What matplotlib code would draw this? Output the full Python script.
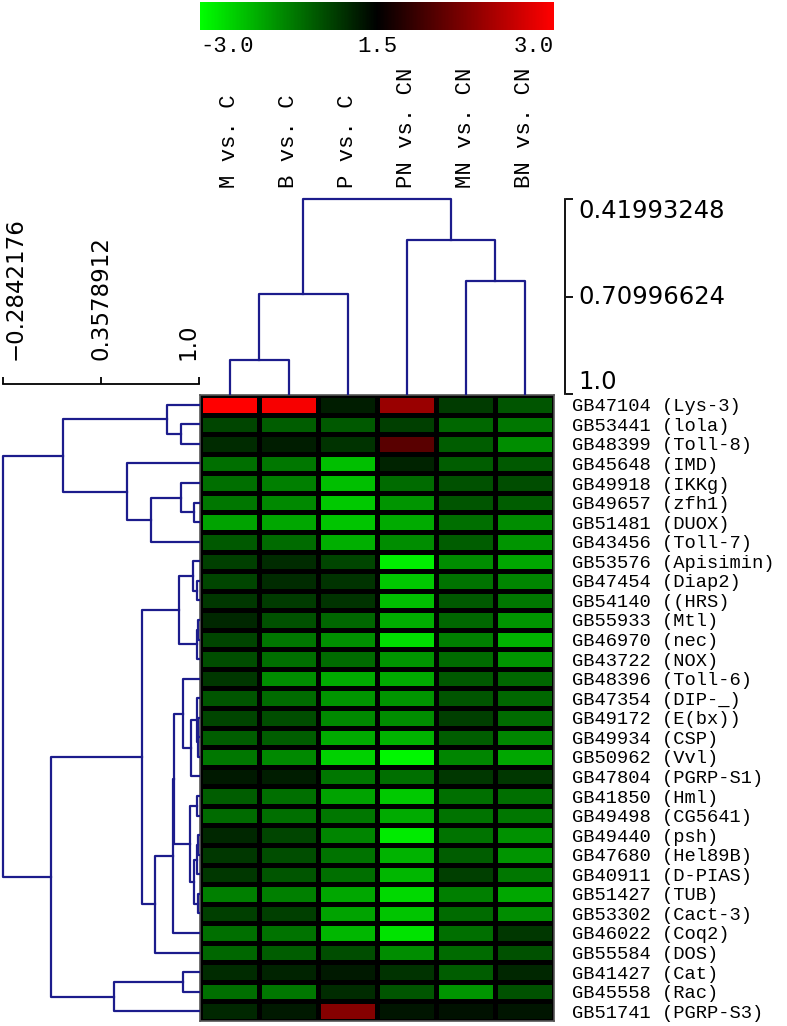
import numpy as np
import matplotlib
matplotlib.use('Agg')
import matplotlib.pyplot as plt
from matplotlib.colors import LinearSegmentedColormap, Normalize
from matplotlib.cm import ScalarMappable

W, H = 787, 1026

# ---- data ----
col_labels = ['M vs. C', 'B vs. C', 'P vs. C', 'PN vs. CN', 'MN vs. CN', 'BN vs. CN']
row_labels = ['GB47104 (Lys-3)', 'GB53441 (lola)', 'GB48399 (Toll-8)', 'GB45648 (IMD)',
              'GB49918 (IKKg)', 'GB49657 (zfh1)', 'GB51481 (DUOX)', 'GB43456 (Toll-7)',
              'GB53576 (Apisimin)', 'GB47454 (Diap2)', 'GB54140 ((HRS)', 'GB55933 (Mtl)',
              'GB46970 (nec)', 'GB43722 (NOX)', 'GB48396 (Toll-6)', 'GB47354 (DIP-_)',
              'GB49172 (E(bx))', 'GB49934 (CSP)', 'GB50962 (Vvl)', 'GB47804 (PGRP-S1)',
              'GB41850 (Hml)', 'GB49498 (CG5641)', 'GB49440 (psh)', 'GB47680 (Hel89B)',
              'GB40911 (D-PIAS)', 'GB51427 (TUB)', 'GB53302 (Cact-3)', 'GB46022 (Coq2)',
              'GB55584 (DOS)', 'GB41427 (Cat)', 'GB45558 (Rac)', 'GB51741 (PGRP-S3)']

m_vs_c = [3.0, -0.8, -0.5, -1.3, -1.3, -1.4, -1.9, -1.05, -0.75, -0.8, -0.65, -0.45, -0.8, -0.9,
          -0.65, -1.0, -0.8, -1.1, -1.4, -0.3, -1.1, -1.25, -0.45, -0.65, -0.65, -1.5, -0.75,
          -1.3, -1.2, -0.5, -1.3, -0.45]
b_vs_c = [2.9, -1.1, -0.35, -1.4, -1.5, -1.6, -1.95, -1.25, -0.5, -0.5, -0.7, -0.95, -1.4, -1.3,
          -1.65, -1.25, -0.9, -1.1, -1.6, -0.35, -1.3, -1.3, -0.8, -0.9, -1.0, -1.5, -0.75,
          -1.35, -1.1, -0.4, -1.4, -0.3]
p_vs_c = [-0.35, -1.05, -0.6, -2.25, -2.25, -2.35, -2.3, -2.05, -0.8, -0.6, -0.6, -1.2, -1.7, -1.25,
          -2.0, -1.75, -1.6, -2.0, -2.45, -1.4, -1.9, -1.4, -1.55, -1.35, -1.3, -1.95, -1.9,
          -2.15, -0.9, -0.3, -0.5, 1.55]
pn_vs_cn = [1.8, -0.75, 1.05, -0.4, -1.25, -1.75, -2.0, -1.65, -2.8, -2.35, -2.25, -2.05, -2.6, -1.75,
            -2.0, -1.75, -1.65, -2.1, -2.9, -1.3, -2.35, -2.0, -2.75, -2.1, -2.15, -2.55, -2.3,
            -2.65, -1.65, -0.6, -1.0, -0.25]
mn_vs_cn = [-0.7, -1.2, -1.1, -1.1, -0.95, -1.0, -1.3, -1.1, -1.65, -1.35, -1.05, -1.2, -1.5, -1.25,
            -1.05, -1.0, -0.75, -1.1, -1.55, -0.65, -1.3, -1.35, -1.35, -1.1, -0.75, -1.5, -1.25,
            -1.3, -1.25, -1.1, -1.75, -0.2]
bn_vs_cn = [-1.0, -1.4, -1.65, -1.05, -0.9, -1.1, -1.65, -1.75, -1.95, -1.55, -1.4, -1.75, -2.1, -1.75,
            -1.2, -1.2, -1.25, -1.55, -1.95, -0.65, -1.3, -1.4, -1.7, -1.75, -1.4, -1.95, -1.65,
            -0.65, -0.95, -0.45, -0.95, -0.25]

# linkage: (child a, child b, similarity at merge); leaves 0..n-1, merges n, n+1, ...
col_merges = [(0, 1, 0.899), (6, 2, 0.7026), (4, 5, 0.664), (3, 8, 0.542), (7, 9, 0.41993248)]
row_merges = [(1, 2, 0.882), (0, 32, 0.790), (5, 6, 0.967), (4, 34, 0.882), (35, 7, 0.685),
              (3, 36, 0.530), (33, 37, 0.105), (9, 10, 0.987), (8, 39, 0.959), (11, 12, 0.995),
              (41, 13, 0.987), (40, 42, 0.869), (16, 17, 0.996), (44, 18, 0.992), (15, 45, 0.989),
              (46, 19, 0.945), (14, 47, 0.893), (20, 21, 0.987), (22, 23, 0.995), (50, 24, 0.984),
              (25, 26, 0.992), (51, 52, 0.967), (49, 53, 0.941), (48, 54, 0.838), (55, 27, 0.827),
              (56, 28, 0.711), (43, 57, 0.624), (29, 30, 0.893), (59, 31, 0.442), (58, 60, 0.026),
              (38, 61, -0.2842176)]

col_scale_ticks = [0.41993248, 0.70996624, 1.0]
col_scale_labels = ['0.41993248', '0.70996624', '1.0']
row_scale_ticks = [-0.2842176, 0.3578912, 1.0]
row_scale_labels = ['\u22120.2842176', '0.3578912', '1.0']
cbar_ticks = [-3, 0, 3]
cbar_labels = ['-3.0', '1.5', '3.0']

MONO = 'Liberation Mono'
NAVY = '#1c1c8c'
cmap = LinearSegmentedColormap.from_list('gkr', ['#00ff00', '#000000', '#ff0000'])


def box(x0, y0, x1, y1):
    return [x0 / W, 1 - y1 / H, (x1 - x0) / W, (y1 - y0) / H]


def dendro_segments(merges, n, leaf_h=1.0):
    pos = {i: i + 0.5 for i in range(n)}
    hgt = {i: leaf_h for i in range(n)}
    segs = []
    for k, (a, b, h) in enumerate(merges):
        segs.append(([pos[a], pos[a], pos[b], pos[b]], [hgt[a], h, h, hgt[b]]))
        pos[n + k] = (pos[a] + pos[b]) / 2
        hgt[n + k] = h
    return segs


fig = plt.figure(figsize=(W / 100, H / 100), dpi=100)

# heatmap
mat = np.column_stack([m_vs_c, b_vs_c, p_vs_c, pn_vs_cn, mn_vs_cn, bn_vs_cn])
ax_hm = fig.add_axes(box(200, 395, 554, 1021))
ax_hm.set_facecolor('black')
ax_hm.pcolormesh(mat, cmap=cmap, vmin=-3, vmax=3, edgecolors='black', linewidth=2.2)
ax_hm.set_xlim(0, 6)
ax_hm.set_ylim(32, 0)
ax_hm.set_xticks([])
ax_hm.yaxis.tick_right()
ax_hm.set_yticks(np.arange(32) + 0.5, row_labels, fontfamily=MONO, fontsize=13.5)
ax_hm.tick_params(axis='y', length=0, pad=13)
for s in ax_hm.spines.values():
    s.set_color('#555555')
    s.set_linewidth(1.2)

# column dendrogram
ax_top = fig.add_axes(box(200, 199, 554, 394))
for xs, ys in dendro_segments(col_merges, 6):
    ax_top.plot(xs, ys, color=NAVY, lw=1.6, clip_on=False)
ax_top.set_xlim(0, 6)
ax_top.set_ylim(1.0, col_scale_ticks[0])
ax_top.patch.set_alpha(0)
for s in ax_top.spines.values():
    s.set_visible(False)
ax_top.set_yticks([])
ax_top.xaxis.tick_top()
ax_top.set_xticks(np.arange(6) + 0.5, col_labels, rotation=90, fontfamily=MONO, fontsize=16)
ax_top.tick_params(axis='x', length=0, pad=8)

# column scale bar
ax_cs = fig.add_axes(box(565, 199, 565.5, 394))
ax_cs.set_ylim(1.0, col_scale_ticks[0])
ax_cs.set_xticks([])
for k in ['top', 'bottom', 'right']:
    ax_cs.spines[k].set_visible(False)
ax_cs.spines['left'].set_linewidth(1.3)
ax_cs.yaxis.tick_right()
ax_cs.set_yticks(col_scale_ticks, col_scale_labels, fontsize=17.5)
ax_cs.tick_params(axis='y', direction='out', length=5, width=1.3, pad=4)
for lbl, va in zip(ax_cs.get_yticklabels(), ['top', 'center', 'bottom']):
    lbl.set_va(va)

# row dendrogram
ax_left = fig.add_axes(box(3.5, 395, 199, 1021))
for ys, xs in dendro_segments(row_merges, 32):
    ax_left.plot(xs, ys, color=NAVY, lw=1.6, clip_on=False)
ax_left.set_xlim(row_scale_ticks[0], 1.0)
ax_left.set_ylim(32, 0)
ax_left.axis('off')

# row scale bar
ax_rs = fig.add_axes(box(3.5, 383.5, 199, 384))
ax_rs.set_xlim(row_scale_ticks[0], 1.0)
ax_rs.set_yticks([])
for k in ['top', 'left', 'right']:
    ax_rs.spines[k].set_visible(False)
ax_rs.spines['bottom'].set_linewidth(1.3)
ax_rs.xaxis.tick_top()
ax_rs.set_xticks(row_scale_ticks, row_scale_labels, rotation=90, fontsize=16.5)
ax_rs.tick_params(axis='x', direction='out', length=5, width=1.3, pad=12)
for lbl, ha in zip(ax_rs.get_xticklabels(), ['left', 'center', 'right']):
    lbl.set_ha(ha)

# colour bar
ax_cb = fig.add_axes(box(200, 2, 554, 30))
cb = fig.colorbar(ScalarMappable(norm=Normalize(-3, 3), cmap=cmap), cax=ax_cb, orientation='horizontal')
cb.outline.set_visible(False)
cb.set_ticks(cbar_ticks, labels=cbar_labels)
ax_cb.tick_params(length=0, pad=4)
for lbl, ha in zip(ax_cb.get_xticklabels(), ['left', 'center', 'right']):
    lbl.set_ha(ha)
    lbl.set_fontfamily(MONO)
    lbl.set_fontsize(16)

fig.savefig('out.png', dpi=100)
